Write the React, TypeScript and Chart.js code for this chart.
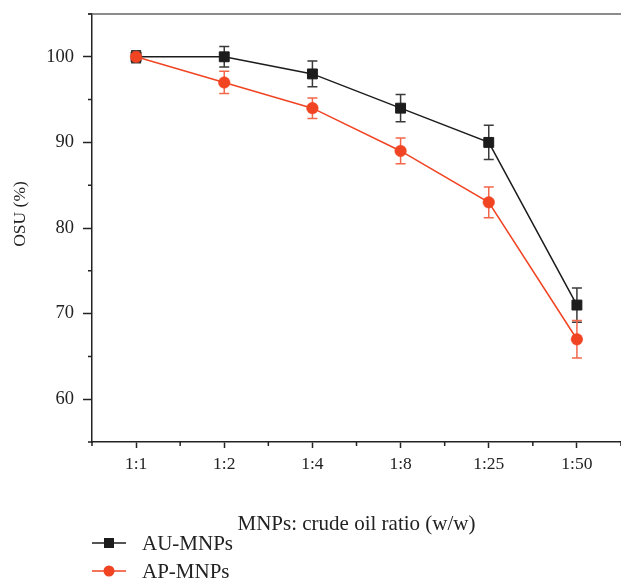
import React, { useEffect, useRef } from "react";
import { Chart, registerables } from "chart.js";

Chart.register(...registerables);

const categories = ["1:1", "1:2", "1:4", "1:8", "1:25", "1:50"];
const auValues = [100, 100, 98, 94, 90, 71];
const auErrors = [0.7, 1.2, 1.5, 1.6, 2.0, 2.0];
const apValues = [100, 97, 94, 89, 83, 67];
const apErrors = [0.5, 1.3, 1.2, 1.5, 1.8, 2.2];
const yTicks = [60, 70, 80, 90, 100];

const BLACK = "#1c1c1c";
const RED = "#f04423";
const FONT = "'Liberation Serif', 'Times New Roman', serif";

const errorData = [
  { values: auValues, errors: auErrors, color: "#3a3a3a" },
  { values: apValues, errors: apErrors, color: "#f2674a" },
];

const decorPlugin = {
  id: "decor",
  beforeDatasetsDraw(chart: any) {
    const { ctx } = chart;
    const xs = chart.scales.x;
    const ys = chart.scales.y;
    ctx.save();
    ctx.lineWidth = 1.5;
    errorData.forEach((d) => {
      ctx.strokeStyle = d.color;
      d.values.forEach((v, i) => {
        const x = xs.getPixelForValue(i);
        const yt = ys.getPixelForValue(v + d.errors[i]);
        const yb = ys.getPixelForValue(v - d.errors[i]);
        ctx.beginPath();
        ctx.moveTo(x, yt);
        ctx.lineTo(x, yb);
        ctx.moveTo(x - 5, yt);
        ctx.lineTo(x + 5, yt);
        ctx.moveTo(x - 5, yb);
        ctx.lineTo(x + 5, yb);
        ctx.stroke();
      });
    });
    ctx.restore();
  },
  afterDraw(chart: any) {
    const { ctx, chartArea } = chart;
    const xs = chart.scales.x;
    const ys = chart.scales.y;
    ctx.save();
    // top frame line
    ctx.strokeStyle = "#666";
    ctx.lineWidth = 1.5;
    ctx.beginPath();
    ctx.moveTo(chartArea.left - 4, chartArea.top);
    ctx.lineTo(chartArea.right, chartArea.top);
    ctx.stroke();
    // minor ticks
    ctx.strokeStyle = "#222";
    ctx.lineWidth = 1.5;
    ctx.beginPath();
    ys.ticks.forEach((t: any) => {
      if (t.value % 10 !== 0) {
        const y = ys.getPixelForValue(t.value);
        ctx.moveTo(chartArea.left - 4, y);
        ctx.lineTo(chartArea.left, y);
      }
    });
    const step = xs.getPixelForValue(1) - xs.getPixelForValue(0);
    for (let i = 0; i <= categories.length; i++) {
      const x = xs.getPixelForValue(0) - step / 2 + i * step;
      ctx.moveTo(x, chartArea.bottom);
      ctx.lineTo(x, chartArea.bottom + 4);
    }
    ctx.stroke();
    // y axis title
    ctx.save();
    ctx.translate(20, 214);
    ctx.rotate(-Math.PI / 2);
    ctx.font = `17.5px ${FONT}`;
    ctx.fillStyle = "#222";
    ctx.textAlign = "center";
    ctx.textBaseline = "middle";
    ctx.fillText("OSU (%)", 0, 0);
    ctx.restore();
    // legend
    const items = [
      { label: "AU-MNPs", color: BLACK, shape: "rect" },
      { label: "AP-MNPs", color: RED, shape: "circle" },
    ];
    ctx.font = `21px ${FONT}`;
    ctx.textBaseline = "middle";
    ctx.textAlign = "left";
    items.forEach((it, k) => {
      const y = 543 + k * 28;
      ctx.strokeStyle = it.color;
      ctx.fillStyle = it.color;
      ctx.lineWidth = 1.5;
      ctx.beginPath();
      ctx.moveTo(92, y);
      ctx.lineTo(126, y);
      ctx.stroke();
      if (it.shape === "rect") {
        ctx.fillRect(104, y - 5, 10, 10);
      } else {
        ctx.beginPath();
        ctx.arc(109, y, 5.5, 0, Math.PI * 2);
        ctx.fill();
      }
      ctx.fillStyle = "#222";
      ctx.fillText(it.label, 142, y + 1);
    });
    ctx.restore();
  },
};

export default function App() {
  const ref = useRef<HTMLCanvasElement | null>(null);
  useEffect(() => {
    if (!ref.current) return;
    const chart = new Chart(ref.current, {
      type: "line",
      data: {
        labels: categories,
        datasets: [
          {
            label: "AU-MNPs",
            data: auValues,
            borderColor: BLACK,
            backgroundColor: BLACK,
            borderWidth: 1.5,
            pointStyle: "rect",
            pointRadius: 7,
            pointBorderWidth: 1,
            pointBackgroundColor: BLACK,
            pointBorderColor: BLACK,
            order: 1,
          },
          {
            label: "AP-MNPs",
            data: apValues,
            borderColor: RED,
            backgroundColor: RED,
            borderWidth: 1.5,
            pointStyle: "circle",
            pointRadius: 5.8,
            pointBorderWidth: 0.5,
            pointBackgroundColor: RED,
            pointBorderColor: RED,
            order: 0,
          },
        ],
      },
      options: {
        animation: false,
        responsive: false,
        events: [],
        layout: { autoPadding: false, padding: { top: 14, left: 0, right: 0, bottom: 0 } },
        plugins: { legend: { display: false }, tooltip: { enabled: false } },
        scales: {
          x: {
            type: "category",
            offset: true,
            grid: {
              display: true,
              drawOnChartArea: false,
              drawTicks: true,
              tickLength: 6,
              tickColor: "#222",
              tickWidth: 1.5,
              offset: false,
            },
            border: { display: true, color: "#222", width: 1.5 },
            ticks: { font: { family: FONT, size: 17.5 }, color: "#222", padding: 6, maxRotation: 0 },
            title: {
              display: true,
              text: "MNPs: crude oil ratio (w/w)",
              font: { family: FONT, size: 21 },
              color: "#222",
              padding: { top: 4, bottom: 43 },
            },
            afterFit: (s: any) => {
              s.height = 138;
              s.paddingLeft = 0;
              s.paddingRight = 0;
            },
          },
          y: {
            type: "linear",
            min: 55,
            max: 105,
            ticks: {
              stepSize: 5,
              autoSkip: false,
              font: { family: FONT, size: 18.5 },
              color: "#222",
              padding: 9,
              callback: (v: any) => (yTicks.includes(Number(v)) ? String(v) : ""),
            },
            grid: {
              display: true,
              drawOnChartArea: false,
              tickLength: 9,
              tickWidth: 1.5,
              tickColor: (c: any) =>
                c.tick && yTicks.includes(c.tick.value) ? "#222" : "rgba(0,0,0,0)",
            },
            border: { display: true, color: "#222", width: 1.5 },
            afterFit: (s: any) => {
              s.width = 92;
              s.paddingTop = 0;
              s.paddingBottom = 0;
            },
          },
        },
      },
      plugins: [decorPlugin],
    } as any);
    return () => chart.destroy();
  }, []);
  return (
    <div style={{ position: "absolute", left: 0, top: 0, width: 621, height: 580, background: "#fff" }}>
      <canvas ref={ref} width={621} height={580} style={{ display: "block" }} />
    </div>
  );
}
